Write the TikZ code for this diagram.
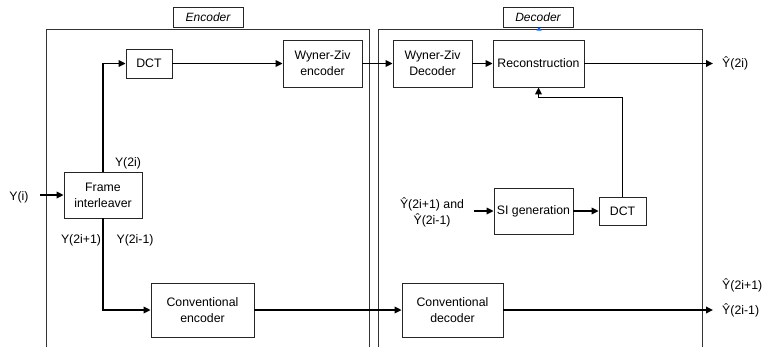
\documentclass[tikz,border=0pt]{standalone}
\usepackage{fontspec}
\setmainfont{Liberation Sans}
\usetikzlibrary{arrows.meta,calc}
\tikzset{
  blk/.style={draw=black!85, line width=0.75pt, fill=white, align=center, inner sep=1pt, font=\fontsize{12.3}{16}\selectfont},
  frm/.style={draw=black!80, line width=0.75pt},
  ttl/.style={draw=black!85, line width=0.75pt, minimum width=70pt, minimum height=20pt, inner sep=0pt, font=\fontsize{12}{14}\selectfont\itshape},
  lbl/.style={inner sep=0pt, align=center, font=\fontsize{12.3}{16}\selectfont},
  arr/.style={line width=1.7pt, -{Triangle[length=7pt,width=6.5pt]}},
  ln/.style={line width=1.7pt}
}
\begin{document}
\begin{tikzpicture}[x=1pt,y=-1pt]
\clip (0,0) rectangle (762,346);
\fill[white] (0,0) rectangle (762,346);
% frames
\draw[frm] (46,29) rectangle (369,360);
\draw[frm] (378,29) rectangle (702,360);
\node[ttl] (enct) at (208,17) {Encoder};
\node[ttl] (dect) at (538,17) {Decoder};
\fill[blue!60!cyan] (536.5,30.5) -- (541.5,30.5) -- (539,27) -- cycle;
% blocks
\node[blk, minimum width=46pt, minimum height=29pt] (dct1) at (149,63.5) {DCT};
\node[blk, minimum width=79pt, minimum height=47pt] (wze) at (322.5,63.5) {Wyner-Ziv\\encoder};
\node[blk, minimum width=78pt, minimum height=46pt] (fi) at (103,195) {Frame\\interleaver};
\node[blk, minimum width=103pt, minimum height=54pt] (ce) at (202.5,310) {Conventional\\encoder};
\node[blk, minimum width=79pt, minimum height=47pt] (wzd) at (432.5,63.5) {Wyner-Ziv\\Decoder};
\node[blk, minimum width=91pt, minimum height=47pt] (rec) at (538.5,63.5) {Reconstruction};
\node[blk, minimum width=79pt, minimum height=46pt] (sig) at (533.5,211) {SI generation};
\node[blk, minimum width=47pt, minimum height=28pt] (dct2) at (622.5,211) {DCT};
\node[blk, minimum width=101pt, minimum height=54pt] (cd) at (452.5,310) {Conventional\\decoder};
% labels
\node[lbl] (yi) at (19,197) {Y(i)};
\node[lbl] (y2i) at (128,163) {Y(2i)};
\node[lbl] (y2ip) at (81,240) {Y(2i+1)};
\node[lbl] (y2im) at (135,240) {Y(2i-1)};
\node[lbl, anchor=west] (yh2i) at (722,63.5) {Ŷ(2i)};
\node[lbl] (sin) at (432,212) {Ŷ(2i+1) and\\Ŷ(2i-1)};
\node[lbl, anchor=west] (yhp) at (722,285) {Ŷ(2i+1)};
\node[lbl, anchor=west] (yhm) at (722,310) {Ŷ(2i-1)};
\coordinate (o1) at (713,63.5);
\coordinate (o2) at (713,310);
% connectors
\draw[arr] ([xshift=11pt]yi.east |- fi.west) -- (fi.west);
\draw[arr] (fi.north) |- (dct1.west);
\draw[arr] (fi.south) |- (ce.west);
\draw[arr] (dct1.east) -- (wze.west);
\draw[arr] (wze.east) -- (wzd.west);
\draw[arr] (wzd.east) -- (rec.west);
\draw[arr] (rec.east) -- (o1);
\draw[arr] (dct2.north) |- ([yshift=-10pt]rec.south) -- (rec.south);
\draw[arr] ([xshift=10pt]sin.east |- sig.west) -- (sig.west);
\draw[arr] (sig.east) -- (dct2.west);
\draw[arr] (ce.east) -- (cd.west);
\draw[arr] (cd.east) -- (o2);
\end{tikzpicture}
\end{document}
